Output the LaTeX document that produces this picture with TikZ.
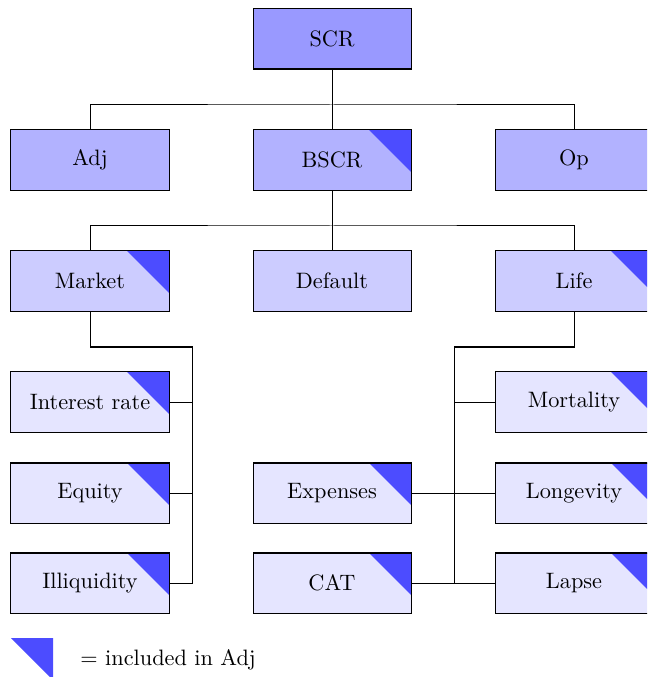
\documentclass[tikz,border=0pt]{standalone}
\usetikzlibrary{calc}
\begin{document}
\begin{tikzpicture}[x=0.4486pt,y=-0.4486pt,
  box/.style={draw=black, line width=0.45pt, minimum width=70.88pt, minimum height=26.92pt, inner sep=0pt, font=\normalsize},
  lvl1/.style={box, fill=blue!40},
  lvl2/.style={box, fill=blue!30},
  lvl3/.style={box, fill=blue!20},
  lvl4/.style={box, fill=blue!10},
  adjmark/.style={path picture={\fill[blue!70] (path picture bounding box.north east) -- ++(-18.84pt,0pt) -- ++(18.84pt,-18.84pt) -- cycle;}},
  conn/.style={draw=black, line width=0.45pt}]
\useasboundingbox (0,0) rectangle (647,677);
\clip (0,0) rectangle (647,677);
% level 1
\node[lvl1] (scr) at (332,39) {SCR};
% level 2
\node[lvl2] (adj) at (90,160) {Adj};
\node[lvl2,adjmark] (bscr) at (332,160) {BSCR};
\node[lvl2] (op) at (574,160) {Op};
% level 3
\node[lvl3,adjmark] (market) at (90,281) {Market};
\node[lvl3] (default) at (332,281) {Default};
\node[lvl3,adjmark] (life) at (574,281) {Life};
% level 4
\node[lvl4,adjmark] (interest) at (90,402) {Interest rate};
\node[lvl4,adjmark] (equity) at (90,493) {Equity};
\node[lvl4,adjmark] (illiq) at (90,583) {Illiquidity};
\node[lvl4,adjmark] (expenses) at (332,493) {Expenses};
\node[lvl4,adjmark] (cat) at (332,583) {CAT};
\node[lvl4,adjmark] (mortality) at (574,402) {Mortality};
\node[lvl4,adjmark] (longevity) at (574,493) {Longevity};
\node[lvl4,adjmark] (lapse) at (574,583) {Lapse};
% junctions
\coordinate (j1) at (332,105);
\coordinate (j2) at (332,226);
\coordinate (mtop) at (192,347);
\coordinate (ltop) at (454,347);
% connectors
\draw[conn] (scr.south) -- (bscr.north);
\draw[conn] (adj.north) |- (j1) -| (op.north);
\draw[conn] (bscr.south) -- (default.north);
\draw[conn] (market.north) |- (j2) -| (life.north);
\draw[conn] (market.south) |- (mtop) |- (illiq.east);
\draw[conn] (interest.east) -- (interest.east -| mtop);
\draw[conn] (equity.east) -- (equity.east -| mtop);
\draw[conn] (life.south) |- (ltop) |- (lapse.west);
\draw[conn] (mortality.west) -- (mortality.west -| ltop);
\draw[conn] (expenses.east) -- (longevity.west);
\draw[conn] (cat.east) -- (lapse.west);
% legend
\fill[blue!70] (11,638) -- (53,638) -- (53,680) -- cycle;
\node[anchor=west, inner sep=0pt] (legend) at (80,660) {$=$ included in Adj};
\end{tikzpicture}
\end{document}
